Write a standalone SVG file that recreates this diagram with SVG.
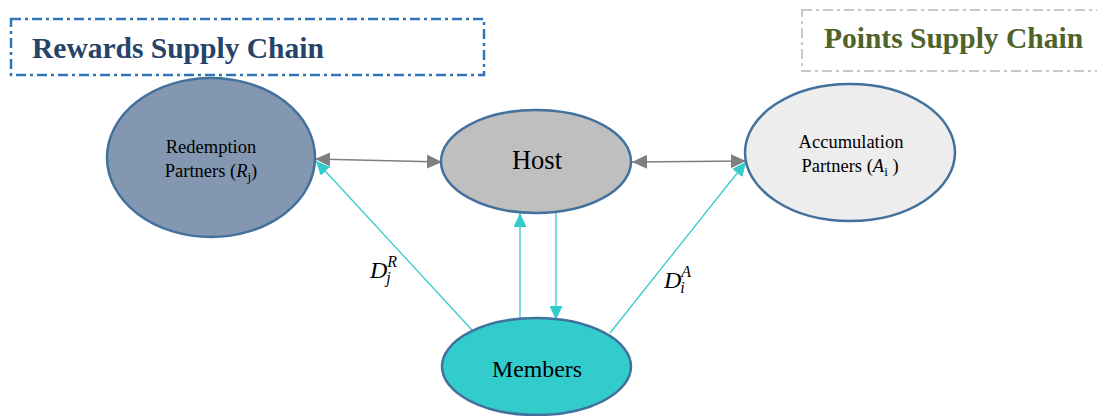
<svg xmlns="http://www.w3.org/2000/svg" width="1097" height="416" viewBox="0 0 1097 416">
<style>
.node{stroke:#41719C;stroke-width:2.5}
.lbl{font-family:"Liberation Serif","Times New Roman",serif;fill:#000;text-anchor:middle}
.math{font-family:"Liberation Serif","Times New Roman",serif;font-style:italic;fill:#000}
.title{font-family:"Liberation Serif","Times New Roman",serif;font-weight:bold;font-size:29.5px}
.gray{stroke:#7F7F7F;stroke-width:1.3;fill:none}
.cyan{stroke:#33CCCC;stroke-width:1.3;fill:none}
</style>
<defs>
<marker id="ag" viewBox="0 0 15 14" refX="15" refY="7" markerWidth="15" markerHeight="14" markerUnits="userSpaceOnUse" orient="auto-start-reverse">
<path d="M0,0 L15,7 L0,14 z" fill="#7F7F7F"/>
</marker>
<marker id="ac" viewBox="0 0 14 13" refX="14" refY="6.5" markerWidth="14" markerHeight="13" markerUnits="userSpaceOnUse" orient="auto">
<path d="M0,0 L14,6.5 L0,13 z" fill="#33CCCC"/>
</marker>
</defs>
<g id="rewards-box">
<rect x="11" y="19" width="473" height="56" fill="none" stroke="#2E75B6" stroke-width="2.5" stroke-dasharray="10 4 3 4"/>
<text class="title" x="32" y="58" fill="#264369">Rewards Supply Chain</text>
</g>
<g id="points-box">
<rect x="802" y="10" width="310" height="61" fill="none" stroke="#C8C8C8" stroke-width="2" stroke-dasharray="10 4 3 4"/>
<text class="title" x="824" y="48" fill="#4F6228">Points Supply Chain</text>
</g>
<g id="connectors">
<line class="gray" x1="315" y1="159" x2="442" y2="162" marker-start="url(#ag)" marker-end="url(#ag)"/>
<line class="gray" x1="632" y1="162" x2="746" y2="161" marker-start="url(#ag)" marker-end="url(#ag)"/>
<line class="cyan" x1="472" y1="330" x2="316" y2="161" marker-end="url(#ac)"/>
<line class="cyan" x1="610" y1="333" x2="746" y2="162" marker-end="url(#ac)"/>
<line class="cyan" x1="520" y1="318" x2="520" y2="213" marker-end="url(#ac)"/>
<line class="cyan" x1="556" y1="213" x2="556" y2="320" marker-end="url(#ac)"/>
<text class="math" x="370" y="278" font-size="24">D<tspan font-size="16" dy="-11">R</tspan><tspan font-size="16" dx="-11" dy="16">j</tspan></text>
<text class="math" x="664" y="288" font-size="24">D<tspan font-size="16" dy="-11">A</tspan><tspan font-size="16" dx="-11" dy="16">i</tspan></text>
</g>
<g id="redemption">
<ellipse class="node" cx="211" cy="157.5" rx="104" ry="79.5" fill="#8497B0"/>
<text class="lbl" x="211" y="153" font-size="18.5">Redemption</text>
<text class="lbl" x="211" y="177" font-size="18.5">Partners (<tspan font-style="italic">R</tspan><tspan font-size="13" dy="4">j</tspan><tspan dy="-4">)</tspan></text>
</g>
<g id="host">
<ellipse class="node" cx="536" cy="161.5" rx="95" ry="51.5" fill="#BFBFBF"/>
<text class="lbl" x="537" y="169" font-size="26.5">Host</text>
</g>
<g id="accumulation">
<ellipse class="node" cx="850" cy="152.5" rx="105" ry="68.5" fill="#EDEDED"/>
<text class="lbl" x="851" y="148" font-size="18.5">Accumulation</text>
<text class="lbl" x="850" y="172" font-size="18.5">Partners (<tspan font-style="italic">A</tspan><tspan font-size="13" dy="4">i</tspan><tspan dy="-4"> )</tspan></text>
</g>
<g id="members">
<ellipse class="node" cx="536.5" cy="366.5" rx="94.5" ry="48.5" fill="#33CCCC"/>
<text class="lbl" x="537" y="377" font-size="23.8">Members</text>
</g>
</svg>
